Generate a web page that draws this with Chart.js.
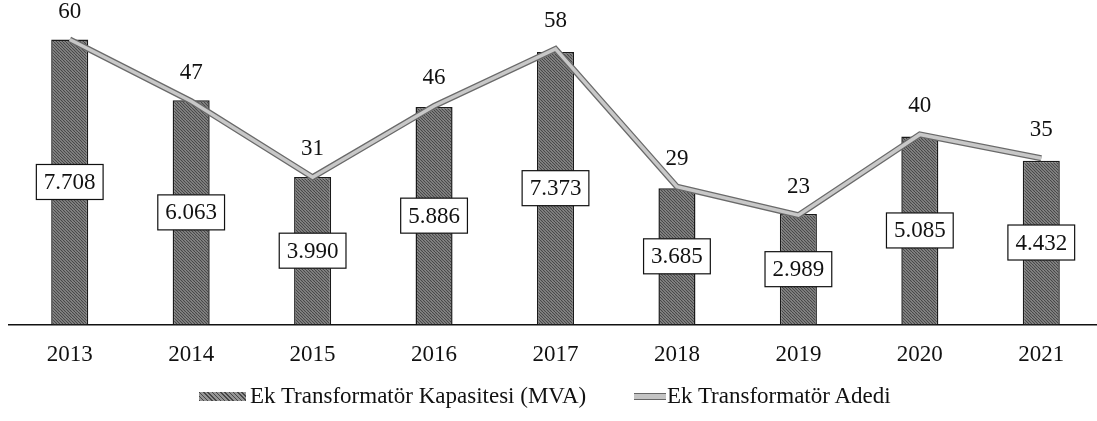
<!DOCTYPE html>
<html>
<head>
<meta charset="utf-8">
<script src="https://cdn.jsdelivr.net/npm/chart.js@4.4.0/dist/chart.umd.min.js"></script>
<style>
    html, body { margin: 0; padding: 0; background: #fff; overflow: hidden; }
    #wrap { position: relative; width: 1097px; height: 421px; overflow: hidden; }
    #chart { position: absolute; left: 0; top: 0; }
    #legend {
        position: absolute; left: 0; top: 383px; width: 1097px; height: 26px;
        font-family: "Liberation Serif", "Times New Roman", serif; font-size: 23px; color: #111;
    }
    .lg { position: absolute; top: 0; line-height: 26px; white-space: nowrap; }
    .sw { position: absolute; }
</style>
</head>
<body>
<div id="wrap">
    <canvas id="chart" width="1102" height="421"></canvas>
    <div id="legend">
        <span class="sw" id="swBar" style="left:199px; top:9px; width:47px; height:9px;"></span>
        <span class="lg" style="left:250px;">Ek Transformatör Kapasitesi (MVA)</span>
        <span class="sw" style="left:634px; top:10px; width:32px; height:5px; background:#c4c4c4; border-top:1px solid #666; border-bottom:1px solid #666;"></span>
        <span class="lg" style="left:667px;">Ek Transformatör Adedi</span>
    </div>
</div>
<script>
// Veriler
const years = ['2013', '2014', '2015', '2016', '2017', '2018', '2019', '2020', '2021'];
const capacityMVA = [7708, 6063, 3990, 5886, 7373, 3685, 2989, 5085, 4432];
const transformerCount = [60, 47, 31, 46, 58, 29, 23, 40, 35];

const FONT = '"Liberation Serif", "Times New Roman", serif';

// Tarama dokusu (koyu gri)
function makePattern() {
    const c = document.createElement('canvas');
    c.width = 6; c.height = 6;
    const g = c.getContext('2d');
    g.fillStyle = '#959595';
    g.fillRect(0, 0, 6, 6);
    g.strokeStyle = '#474747';
    g.lineWidth = 1.2;
    for (let k = -6; k <= 12; k += 3) {
        g.beginPath();
        g.moveTo(k, 0);
        g.lineTo(k + 6, 6);
        g.stroke();
    }
    return g.createPattern(c, 'repeat');
}

const ctx = document.getElementById('chart').getContext('2d');
const barPattern = makePattern();
document.getElementById('swBar').style.background =
    'repeating-linear-gradient(45deg, #474747 0 1px, #959595 1px 3px)';

// Etiketler: çizgi üstünde adet, çubuk ortasında kutulu kapasite
const labelPlugin = {
    id: 'valueLabels',
    afterDatasetsDraw(chart) {
        const c = chart.ctx;
        c.save();
        c.font = '23px ' + FONT;
        c.textAlign = 'center';
        c.textBaseline = 'middle';

        const lineMeta = chart.getDatasetMeta(2);
        lineMeta.data.forEach((pt, i) => {
            c.fillStyle = '#111';
            c.fillText(String(transformerCount[i]), pt.x, pt.y - 28);
        });

        const barMeta = chart.getDatasetMeta(0);
        barMeta.data.forEach((bar, i) => {
            const txt = capacityMVA[i].toLocaleString('de-DE');
            const cy = (bar.y + bar.base) / 2;
            const w = c.measureText(txt).width + 15;
            const h = 35;
            c.fillStyle = '#fff';
            c.fillRect(bar.x - w / 2, cy - h / 2, w, h);
            c.strokeStyle = '#111';
            c.lineWidth = 1.2;
            c.strokeRect(bar.x - w / 2, cy - h / 2, w, h);
            c.fillStyle = '#111';
            c.fillText(txt, bar.x, cy + 1);
        });
        c.restore();
    }
};

new Chart(ctx, {
    type: 'bar',
    data: {
        labels: years,
        datasets: [
            {
                label: 'Ek Transformatör Kapasitesi (MVA)',
                data: capacityMVA,
                backgroundColor: barPattern,
                borderColor: '#1a1a1a',
                borderWidth: 1.5,
                barPercentage: 0.305,
                categoryPercentage: 1,
                yAxisID: 'y',
                order: 3
            },
            {
                type: 'line',
                label: 'outline',
                data: transformerCount,
                borderColor: '#6a6a6a',
                borderWidth: 6,
                pointRadius: 0,
                tension: 0,
                yAxisID: 'y2',
                order: 2
            },
            {
                type: 'line',
                label: 'Ek Transformatör Adedi',
                data: transformerCount,
                borderColor: '#c8c8c8',
                borderWidth: 3.5,
                pointRadius: 0,
                tension: 0,
                yAxisID: 'y2',
                order: 1
            }
        ]
    },
    options: {
        responsive: false,
        animation: false,
        layout: { padding: { left: 9, right: 0, top: 1, bottom: 35 } },
        plugins: {
            legend: { display: false },
            tooltip: { enabled: false }
        },
        scales: {
            x: {
                grid: { display: false, drawTicks: false },
                border: { display: true, color: '#111', width: 1.5 },
                ticks: { color: '#111', font: { family: FONT, size: 23 }, padding: 17 }
            },
            y: { display: false, min: 0, max: 8752 },
            y2: { display: false, min: 0, max: 68.1 }
        }
    },
    plugins: [labelPlugin]
});
</script>
</body>
</html>
